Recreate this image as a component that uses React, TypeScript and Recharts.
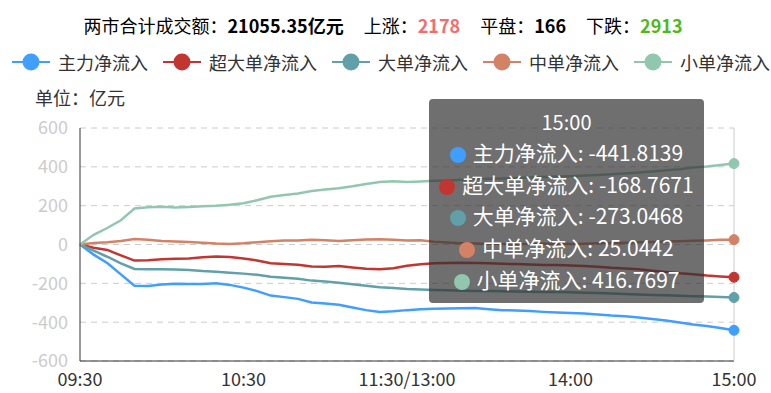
import React from 'react';
import { LineChart, Line, XAxis, YAxis, CartesianGrid, Tooltip } from 'recharts';

const FONT = "'Noto Sans CJK SC', 'Noto Sans', sans-serif";

const times = [
  '09:30', '09:35', '09:40', '09:45', '09:50', '09:55', '10:00', '10:05', '10:10', '10:15', '10:20', '10:25',
  '10:30', '10:35', '10:40', '10:45', '10:50', '10:55', '11:00', '11:05', '11:10', '11:15', '11:20', '11:25',
  '11:30/13:00', '13:05', '13:10', '13:15', '13:20', '13:25', '13:30', '13:35', '13:40', '13:45', '13:50', '13:55',
  '14:00', '14:05', '14:10', '14:15', '14:20', '14:25', '14:30', '14:35', '14:40', '14:45', '14:50', '14:55',
  '15:00',
];

const mainFlow = [
  0, -52, -95, -154, -212, -214, -206, -202, -204, -203, -200, -208,
  -222, -240, -263, -271, -280, -299, -304, -310, -324, -338, -348, -344,
  -338, -334, -331, -330, -328, -327, -333, -338, -340, -343, -347, -350,
  -353, -356, -360, -366, -370, -376, -384, -392, -402, -412, -420, -430,
  -441.8139,
];

const superLargeFlow = [
  0, -17, -28, -56, -83, -81, -76, -74, -72, -66, -62, -65,
  -72, -82, -97, -100, -104, -113, -114, -111, -118, -125, -127, -122,
  -110, -102, -96, -95, -94, -95, -97, -99, -101, -103, -105, -106,
  -108, -111, -115, -120, -123, -128, -135, -141, -148, -153, -160, -165,
  -168.7671,
];

const largeFlow = [
  0, -32, -63, -97, -126, -128, -128, -129, -131, -137, -140, -145,
  -150, -156, -166, -171, -177, -186, -191, -197, -205, -213, -220, -224,
  -229, -232, -234, -236, -238, -239, -240, -241, -242, -243, -244, -245,
  -246, -248, -250, -252, -255, -257, -260, -262, -264, -266, -268, -270,
  -273.0468,
];

const mediumFlow = [
  0, 8, 11, 18, 28, 25, 18, 15, 13, 9, 5, 3,
  6, 12, 17, 20, 20, 24, 22, 18, 22, 26, 27, 24,
  20, 22, 14, 10, 7, 5, 4, 3, 3, 3, 4, 5,
  3, 4, 6, 8, 9, 11, 13, 15, 17, 19, 21, 24,
  25.0442,
];

const smallFlow = [
  0, 50, 85, 125, 185, 192, 195, 190, 193, 197, 200, 205,
  213, 228, 246, 255, 263, 275, 283, 290, 300, 312, 322, 326,
  322, 325, 328, 330, 333, 336, 338, 340, 343, 345, 347, 350,
  352, 355, 358, 362, 366, 371, 376, 382, 388, 396, 402, 410,
  416.7697,
];

const yTicks = [-600, -400, -200, 0, 200, 400, 600];

const seriesList = [
  { key: 'main', name: '主力净流入', color: '#409eff', values: mainFlow },
  { key: 'superLarge', name: '超大单净流入', color: '#c23531', values: superLargeFlow },
  { key: 'large', name: '大单净流入', color: '#61a0a8', values: largeFlow },
  { key: 'medium', name: '中单净流入', color: '#d48265', values: mediumFlow },
  { key: 'small', name: '小单净流入', color: '#91c7ae', values: smallFlow },
];

const summary = { turnover: '21055.35亿元', up: '2178', flat: '166', down: '2913' };

const data = times.map((t, i) => {
  const row: any = { time: t };
  seriesList.forEach((s) => {
    row[s.key] = s.values[i];
  });
  return row;
});

const TooltipBox = ({ active, payload, label }: any) => {
  if (!active || !payload || !payload.length) return null;
  return (
    <div
      style={{
        width: 275,
        height: 204,
        boxSizing: 'border-box',
        background: 'rgba(50,50,50,0.7)',
        borderRadius: 4,
        color: '#fff',
        textAlign: 'center',
        paddingTop: 8,
        fontFamily: FONT,
      }}
    >
      <div style={{ fontSize: 20, lineHeight: '30px' }}>{label}</div>
      {payload.map((p: any) => (
        <div key={p.dataKey} style={{ fontSize: 21, lineHeight: '31.7px', whiteSpace: 'nowrap' }}>
          <span
            style={{
              display: 'inline-block',
              width: 16,
              height: 16,
              borderRadius: 8,
              background: p.color,
              marginRight: 7,
              verticalAlign: '-2px',
            }}
          />
          {p.name}: {p.value}
        </div>
      ))}
    </div>
  );
};

export default function App() {
  return (
    <div style={{ position: 'absolute', left: 0, top: 0, width: 771, height: 393, fontFamily: FONT, background: '#fff' }}>
      <div
        style={{
          position: 'absolute',
          left: 0,
          top: 15,
          width: 766,
          textAlign: 'center',
          fontSize: 18,
          lineHeight: '20px',
          color: '#000',
          whiteSpace: 'nowrap',
        }}
      >
        <span>两市合计成交额：</span>
        <b>{summary.turnover}</b>
        <span style={{ marginLeft: 20 }}>上涨：</span>
        <b style={{ color: '#f56c6c' }}>{summary.up}</b>
        <span style={{ marginLeft: 20 }}>平盘：</span>
        <b>{summary.flat}</b>
        <span style={{ marginLeft: 20 }}>下跌：</span>
        <b style={{ color: '#52b81a' }}>{summary.down}</b>
      </div>

      <div
        style={{
          position: 'absolute',
          left: 12,
          top: 52,
          height: 20,
          display: 'flex',
          alignItems: 'center',
          gap: 15,
          whiteSpace: 'nowrap',
        }}
      >
        {seriesList.map((s) => (
          <div key={s.key} style={{ display: 'flex', alignItems: 'center' }}>
            <svg width={38} height={18} style={{ marginRight: 8 }}>
              <line x1={0} y1={9} x2={38} y2={9} stroke={s.color} strokeWidth={2} />
              <circle cx={19} cy={9} r={8.5} fill={s.color} />
            </svg>
            <span style={{ fontSize: 18, lineHeight: '20px', color: '#333' }}>{s.name}</span>
          </div>
        ))}
      </div>

      <div style={{ position: 'absolute', left: 35, top: 86, fontSize: 18, lineHeight: '22px', color: '#333' }}>
        单位：亿元
      </div>

      <div style={{ position: 'absolute', left: 0, top: 0 }}>
        <LineChart width={771} height={393} data={data} margin={{ top: 128, right: 37, bottom: 2, left: 0 }}>
          <CartesianGrid vertical={false} stroke="#ccc" strokeDasharray="6 5" />
          <XAxis
            dataKey="time"
            interval={11}
            height={30}
            axisLine={{ stroke: '#333' }}
            tickLine={false}
            tickSize={0}
            tickMargin={12}
            tick={{ fill: '#333', fontSize: 18, fontFamily: FONT }}
          />
          <YAxis
            type="number"
            domain={[-600, 600]}
            ticks={yTicks}
            width={80}
            axisLine={{ stroke: '#333' }}
            tickLine={false}
            tickSize={0}
            tickMargin={12}
            tick={{ fill: '#ccc', fontSize: 18, fontFamily: FONT }}
          />
          <Tooltip
            content={<TooltipBox />}
            defaultIndex={48}
            active={true}
            position={{ x: 429, y: 99 }}
            isAnimationActive={false}
            cursor={{ stroke: '#ccc', strokeWidth: 1 }}
            wrapperStyle={{ outline: 'none', zIndex: 10 }}
            allowEscapeViewBox={{ x: true, y: true }}
          />
          {seriesList.map((s) => (
            <Line
              key={s.key}
              dataKey={s.key}
              name={s.name}
              type="linear"
              stroke={s.color}
              strokeWidth={2.5}
              dot={false}
              activeDot={{ r: 5, fill: s.color, stroke: s.color, strokeWidth: 1 }}
              isAnimationActive={false}
            />
          ))}
        </LineChart>
      </div>
    </div>
  );
}
